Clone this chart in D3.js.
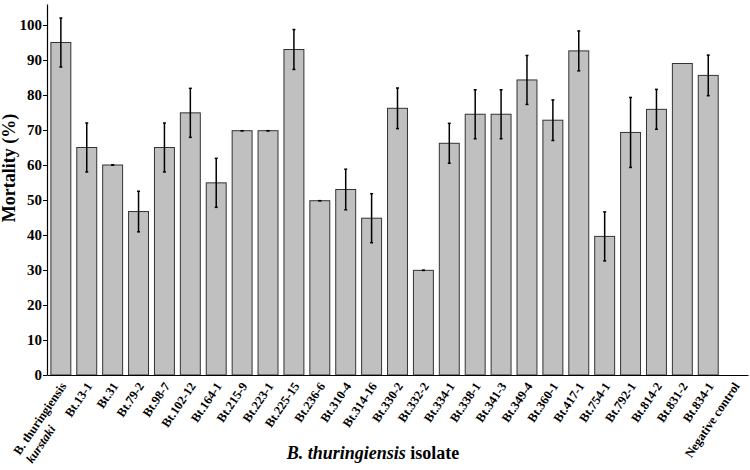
<!DOCTYPE html>
<html>
<head>
<meta charset="utf-8">
<script src="https://cdn.jsdelivr.net/npm/d3@7"></script>
<style>
  body { margin: 0; background: #fff; }
  svg { font-family: "Liberation Serif", "Times New Roman", serif; }
</style>
</head>
<body>
<svg id="bar-svg"></svg>
<script>
const categories = ["B. thuringiensis kurstaki", "Bt.13-1", "Bt.31", "Bt.79-2", "Bt.98-7", "Bt.102-12",
    "Bt.164-1", "Bt.215-9", "Bt.223-1", "Bt.225-15", "Bt.236-6", "Bt.310-4", "Bt.314-16", "Bt.330-2",
    "Bt.332-2", "Bt.334-1", "Bt.338-1", "Bt.341-3", "Bt.349-4", "Bt.360-1", "Bt.417-1", "Bt.754-1",
    "Bt.792-1", "Bt.814-2", "Bt.831-2", "Bt.834-1", "Negative control"];
const mortality = [95, 65, 60, 46.7, 65, 74.9, 54.9, 69.8, 69.8, 93, 49.8, 53, 44.8, 76.2,
    29.9, 66.2, 74.5, 74.5, 84.3, 72.8, 92.6, 39.6, 69.3, 75.9, 89, 85.6, 0];
const errors = [7, 7, 0, 5.8, 7, 7, 7, 0, 0, 5.7, 0, 5.8, 7, 5.8,
    0, 5.7, 7, 7, 7, 5.8, 5.7, 7, 10, 5.7, null, 5.8, null];
const yTicks = [0, 10, 20, 30, 40, 50, 60, 70, 80, 90, 100];

const width = 750;
const height = 470;

let svg = d3.select("#bar-svg")
    .attr("width", width)
    .attr("height", height);

const plotLeft = 47, plotRight = 748, plotBottom = 375, plotTop = 4;

const data = categories.map((c, i) => ({ name: c, value: mortality[i], err: errors[i] }));

const xScale = d3.scaleBand()
    .domain(categories)
    .range([plotLeft, plotRight])
    .paddingInner(0.23)
    .paddingOuter(0.15);

const yScale = d3.scaleLinear()
    .domain([0, 106])
    .range([plotBottom, plotTop]);

// bars
svg.selectAll(".bar")
    .data(data.filter(d => d.value > 0))
    .enter().append("rect")
    .attr("class", "bar")
    .attr("x", d => xScale(d.name))
    .attr("y", d => yScale(d.value))
    .attr("width", xScale.bandwidth())
    .attr("height", d => yScale(0) - yScale(d.value))
    .attr("fill", "#c0c0c0")
    .attr("stroke", "#333")
    .attr("stroke-width", 1);

// error bars
const errData = data.filter(d => d.err !== null && d.value > 0);
const cx = d => xScale(d.name) + xScale.bandwidth() / 2;

svg.selectAll(".err")
    .data(errData)
    .enter().append("line")
    .attr("x1", cx).attr("x2", cx)
    .attr("y1", d => yScale(d.value + d.err))
    .attr("y2", d => yScale(d.value - d.err))
    .attr("stroke", "#000")
    .attr("stroke-width", 1.5);

["top", "bot"].forEach(k => {
    svg.selectAll(".cap-" + k)
        .data(errData)
        .enter().append("line")
        .attr("x1", d => cx(d) - 1.5).attr("x2", d => cx(d) + 1.5)
        .attr("y1", d => yScale(k === "top" ? d.value + d.err : d.value - d.err))
        .attr("y2", d => yScale(k === "top" ? d.value + d.err : d.value - d.err))
        .attr("stroke", "#000")
        .attr("stroke-width", 1.5);
});

// y axis
const yAxis = svg.append("g")
    .attr("transform", `translate(${plotLeft},0)`)
    .call(d3.axisLeft(yScale).tickValues(yTicks).tickSize(4).tickSizeOuter(0).tickPadding(1));
yAxis.selectAll("text")
    .style("font-family", "Liberation Serif, serif")
    .style("font-size", "15px")
    .style("font-weight", "bold")
    .attr("fill", "#000");
yAxis.select(".domain").attr("stroke-width", 1.2);

// x axis
const xAxis = svg.append("g")
    .attr("transform", `translate(0,${plotBottom})`)
    .call(d3.axisBottom(xScale).tickSize(0).tickSizeOuter(0));
xAxis.select(".domain").attr("stroke-width", 1.2);
xAxis.selectAll("text").remove();

// rotated category labels
const labels = svg.append("g");
categories.forEach((c, i) => {
    const g = labels.append("g")
        .attr("transform", `translate(${xScale(c) + xScale.bandwidth() / 2 + 6},${plotBottom + 11}) rotate(-56)`);
    if (i === 0) {
        const l1 = g.append("text")
            .attr("text-anchor", "end")
            .style("font-size", "12.5px")
            .style("font-weight", "bold")
            .text("B. thuringiensis");
        const len = l1.node().getComputedTextLength();
        g.append("text")
            .attr("x", -len)
            .attr("y", 15)
            .attr("text-anchor", "start")
            .style("font-size", "12.5px")
            .style("font-weight", "bold")
            .style("font-style", "italic")
            .text("kurstaki");
    } else {
        g.append("text")
            .attr("text-anchor", "end")
            .style("font-size", "12.5px")
            .style("font-weight", "bold")
            .text(c);
    }
});

// axis titles
svg.append("text")
    .attr("transform", "translate(15,168) rotate(-90)")
    .attr("text-anchor", "middle")
    .style("font-size", "18px")
    .style("font-weight", "bold")
    .text("Mortality (%)");

const xt = svg.append("text")
    .attr("x", 373)
    .attr("y", 459)
    .attr("text-anchor", "middle")
    .style("font-size", "18px")
    .style("font-weight", "bold");
xt.append("tspan").style("font-style", "italic").text("B. thuringiensis");
xt.append("tspan").text(" isolate");
</script>
</body>
</html>
